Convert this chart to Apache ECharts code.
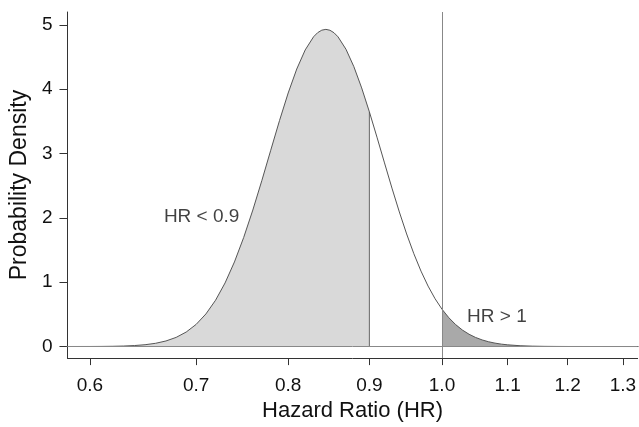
<!DOCTYPE html>
<html>
<head>
<meta charset="utf-8">
<script src="https://cdn.jsdelivr.net/npm/echarts@6/dist/echarts.min.js"></script>
<style>
html,body{margin:0;padding:0;background:#fff;}
#chart{width:639px;height:427px;}
</style>
</head>
<body>
<div id="chart"></div>
<script>
// Hazard ratio grid and probability density
const hrValues = [0.58, 0.60, 0.61, 0.62, 0.63, 0.64, 0.65, 0.66, 0.67, 0.68, 0.69, 0.70, 0.71, 0.72, 0.73, 0.74, 0.75, 0.76, 0.77, 0.78, 0.79, 0.80, 0.81, 0.82, 0.83, 0.835, 0.84, 0.845, 0.85, 0.855, 0.86, 0.87, 0.88, 0.89, 0.90, 0.91, 0.92, 0.93, 0.94, 0.95, 0.96, 0.97, 0.98, 0.99, 1.00, 1.01, 1.02, 1.03, 1.04, 1.05, 1.06, 1.07, 1.08, 1.09, 1.10, 1.12, 1.14, 1.16, 1.18, 1.20, 1.25, 1.30, 1.33];
const density  = [0.0001, 0.0007, 0.0017, 0.0036, 0.0075, 0.0149, 0.0279, 0.0501, 0.0861, 0.1421, 0.2254, 0.3440, 0.5063, 0.7196, 0.9886, 1.3146, 1.6954, 2.1214, 2.5795, 3.0505, 3.5121, 3.9410, 4.3137, 4.6102, 4.8147, 4.8793, 4.9177, 4.9300, 4.9163, 4.8773, 4.8140, 4.6207, 4.3502, 4.0199, 3.6484, 3.2541, 2.8540, 2.4624, 2.0917, 1.7497, 1.4423, 1.1722, 0.9395, 0.7431, 0.5801, 0.4473, 0.3409, 0.2565, 0.1910, 0.1406, 0.1024, 0.0738, 0.0527, 0.0372, 0.0261, 0.0124, 0.0057, 0.0026, 0.0011, 0.0005, 0.0001, 0.0000, 0.0000];
const lowerCut = 0.9;   // HR < 0.9 region
const upperCut = 1.0;   // HR > 1 region
const xTickLabels = [0.6, 0.7, 0.8, 0.9, 1.0, 1.1, 1.2, 1.3];
const yTickLabels = [0, 1, 2, 3, 4, 5];
const annotations = [
  { text: 'HR < 0.9', hr: 0.668, y: 2.01 },
  { text: 'HR > 1', hr: 1.037, y: 0.47 }
];

const curve = hrValues.map((h, i) => [h, density[i]]);
const lowRegion = curve.filter(p => p[0] <= lowerCut + 1e-9);
const highRegion = curve.filter(p => p[0] >= upperCut - 1e-9);
const cutDensity = density[hrValues.indexOf(lowerCut)];

const FONT = '"Liberation Sans", Arial, Helvetica, sans-serif';
const chart = echarts.init(document.getElementById('chart'), null, {renderer: 'canvas'});

chart.setOption({
  animation: false,
  backgroundColor: '#ffffff',
  grid: { left: 66, right: 0, top: 12, bottom: 65, containLabel: false },
  xAxis: {
    type: 'log',
    logBase: 10,
    min: 0.5808,
    max: 1.3282,
    name: 'Hazard Ratio (HR)',
    nameLocation: 'middle',
    nameGap: 41,
    nameTextStyle: { fontFamily: FONT, fontSize: 22, color: '#111' },
    axisLine: { show: true, onZero: false, lineStyle: { color: '#333', width: 1 } },
    axisTick: { show: true, length: 7, lineStyle: { color: '#333' }, customValues: xTickLabels },
    axisLabel: {
      show: true, margin: 18, fontFamily: FONT, fontSize: 19, color: '#111',
      customValues: xTickLabels,
      formatter: v => Number(v).toFixed(1)
    },
    splitLine: { show: false },
    minorTick: { show: false }
  },
  yAxis: {
    type: 'value',
    min: -0.18,
    max: 5.2,
    name: 'Probability Density',
    nameLocation: 'middle',
    nameGap: 36,
    nameRotate: 90,
    nameTextStyle: { fontFamily: FONT, fontSize: 23, color: '#111' },
    axisLine: { show: true, onZero: false, lineStyle: { color: '#333', width: 1 } },
    axisTick: { show: true, length: 8, lineStyle: { color: '#333' }, customValues: yTickLabels },
    axisLabel: { show: true, margin: 15, fontFamily: FONT, fontSize: 19, color: '#111', customValues: yTickLabels },
    splitLine: { show: false }
  },
  series: [
    {
      type: 'line', name: 'low', data: lowRegion, smooth: false, symbol: 'none',
      lineStyle: { width: 0 }, areaStyle: { color: '#d9d9d9', opacity: 1 }, z: 1
    },
    {
      type: 'line', name: 'high', data: highRegion, smooth: false, symbol: 'none',
      lineStyle: { width: 0 }, areaStyle: { color: '#a9a9a9', opacity: 1 }, z: 1
    },
    {
      type: 'line', name: 'cutEdge', data: [[lowerCut, 0], [lowerCut, cutDensity]], symbol: 'none',
      lineStyle: { color: '#666', width: 1 }, z: 2
    },
    {
      type: 'line', name: 'density', data: curve, smooth: false, symbol: 'none',
      lineStyle: { color: '#555', width: 1 }, z: 3,
      markLine: {
        silent: true, symbol: 'none', label: { show: false },
        lineStyle: { color: '#888', width: 1, type: 'solid' },
        data: [ { xAxis: upperCut }, { yAxis: 0 } ]
      }
    },
    {
      type: 'scatter', name: 'labels', symbolSize: 0,
      data: annotations.map(a => ({ value: [a.hr, a.y], name: a.text })),
      label: {
        show: true, position: 'right', distance: 0, formatter: p => p.name,
        fontFamily: FONT, fontSize: 19, color: '#111'
      },
      z: 4
    }
  ]
});
</script>
</body>
</html>
